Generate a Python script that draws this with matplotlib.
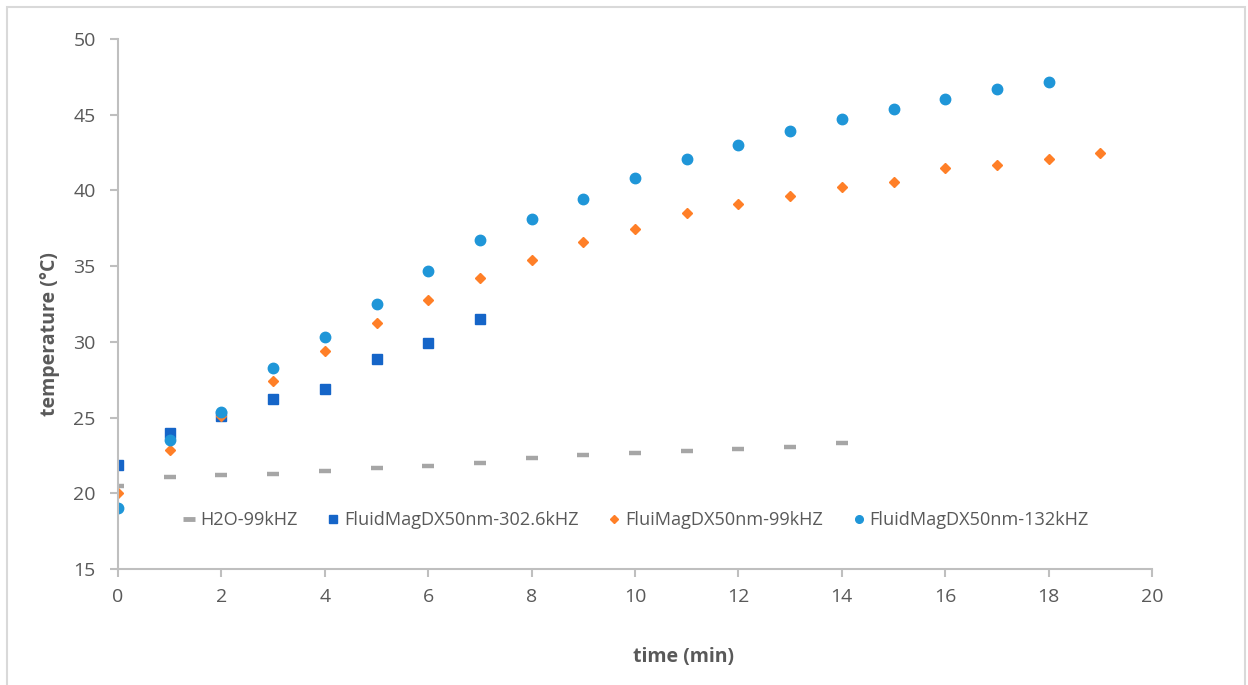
import matplotlib.pyplot as plt
from matplotlib.lines import Line2D
from matplotlib.patches import Rectangle

plt.rcParams['font.family'] = ['Open Sans', 'DejaVu Sans']

# 時間 (min)
t_h2o = list(range(0, 15))
t_302 = list(range(0, 8))
t_99 = list(range(0, 20))
t_132 = list(range(0, 19))

h2o_99 = [20.5, 21.1, 21.2, 21.3, 21.5, 21.65, 21.8, 22.0, 22.3, 22.5,
          22.65, 22.8, 22.95, 23.05, 23.3]
fm_302 = [21.85, 23.95, 25.1, 26.2, 26.9, 28.9, 29.95, 31.5]
fm_99 = [20.0, 22.85, 25.1, 27.4, 29.4, 31.25, 32.75, 34.2, 35.4, 36.6,
         37.45, 38.5, 39.1, 39.6, 40.2, 40.55, 41.5, 41.7, 42.05, 42.5]
fm_132 = [19.0, 23.5, 25.4, 28.3, 30.3, 32.5, 34.7, 36.75, 38.1, 39.45,
          40.85, 42.05, 43.0, 43.95, 44.7, 45.4, 46.05, 46.7, 47.15]

labels = ['H2O-99kHZ', 'FluidMagDX50nm-302.6kHZ', 'FluiMagDX50nm-99kHZ',
          'FluidMagDX50nm-132kHZ']
colors = ['#a6a6a6', '#1565c8', '#ff7f27', '#1f96d8']

fig = plt.figure(figsize=(12.48, 6.85), dpi=100)
ax = fig.add_axes([118/1248, 1-569/685, (1152-118)/1248, (569-39)/685])

ax.plot(t_h2o, h2o_99, ls='none', marker='_', ms=9, mew=3.2, color=colors[0])
ax.plot(t_302, fm_302, ls='none', marker='s', ms=7.5, color=colors[1])
ax.plot(t_99, fm_99, ls='none', marker='D', ms=5.5, color=colors[2])
ax.plot(t_132, fm_132, ls='none', marker='o', ms=7.5, color=colors[3])

ax.set_xlim(0, 20)
ax.set_ylim(15, 50)
ax.set_xticks(range(0, 21, 2))
ax.set_yticks(range(15, 51, 5))
for s in ['top', 'right']:
    ax.spines[s].set_visible(False)
for s in ['left', 'bottom']:
    ax.spines[s].set_color('#bfbfbf')
    ax.spines[s].set_linewidth(1.5)
ax.tick_params(colors='#bfbfbf', labelcolor='#595959', labelsize=14, width=1.5, length=6)
ax.tick_params(axis='x', pad=8)
ax.tick_params(axis='y', pad=10)

ax.set_xlabel('time (min)', fontsize=14, fontweight='bold', color='#595959')
ax.set_ylabel('temperature (°C)', fontsize=14, fontweight='bold', color='#595959')
ax.xaxis.set_label_coords(0.547, -0.147)
ax.yaxis.set_label_coords(-0.056, 0.443)

handles = [
    Line2D([], [], ls='none', marker='_', ms=9, mew=3.5, color=colors[0]),
    Line2D([], [], ls='none', marker='s', ms=6, color=colors[1]),
    Line2D([], [], ls='none', marker='D', ms=4, color=colors[2]),
    Line2D([], [], ls='none', marker='o', ms=5.5, color=colors[3]),
]
ax.legend(handles, labels, loc='center', bbox_to_anchor=(0.501, 0.0925), ncol=4, frameon=False,
          fontsize=13.1, labelcolor='#595959', handlelength=0.7, handletextpad=0.25,
          columnspacing=1.6)

# 外枠
fig.patches.append(Rectangle((7/1248, -0.01), 1238/1248, 1-7/685+0.01, transform=fig.transFigure,
                             fill=False, edgecolor='#d9d9d9', linewidth=1.5))

fig.savefig('out.png', dpi=100)
